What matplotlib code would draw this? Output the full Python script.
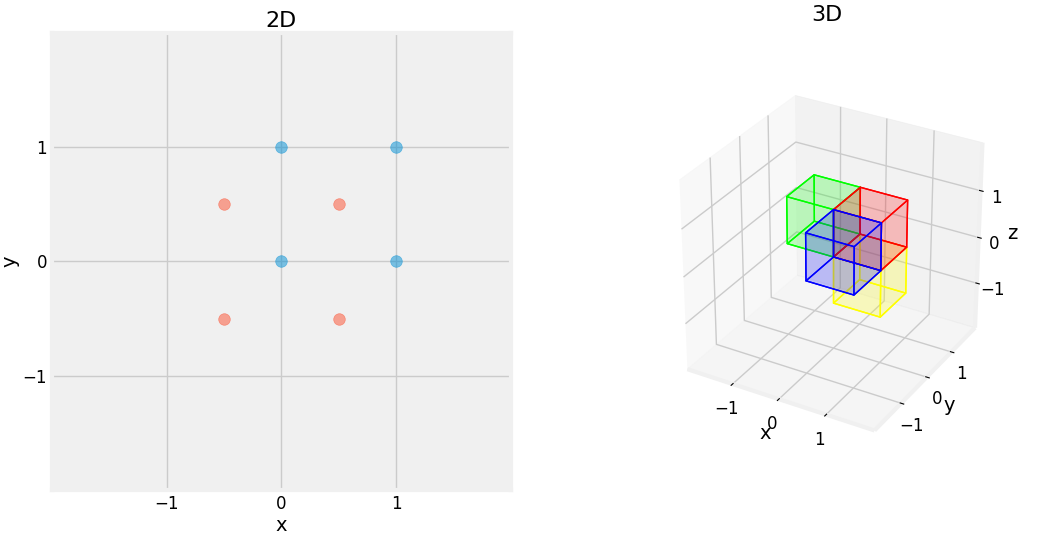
import matplotlib
matplotlib.use("Agg")
import matplotlib.pyplot as plt
import numpy as np
from mpl_toolkits.mplot3d.art3d import Poly3DCollection
from matplotlib.colors import to_rgba

plt.style.use("fivethirtyeight")
plt.rcParams['figure.facecolor'] = 'white'
plt.rcParams['savefig.facecolor'] = 'white'

blue_x = [0, 1, 0, 1]
blue_y = [0, 0, 1, 1]
red_x = [-0.5, 0.5, -0.5, 0.5]
red_y = [-0.5, -0.5, 0.5, 0.5]

cube_origins = [(0, 0, 0), (-1, 0, 0), (0, -1, 0), (0, 0, -1)]
cube_colors = ['red', 'lime', 'blue', 'yellow']

fig = plt.figure(figsize=(10.62, 5.35), dpi=100)
ax = fig.add_axes([0.049, 0.084, 0.432, 0.855])
ax.scatter(blue_x, blue_y, s=70, color='#008fd5', alpha=0.5, zorder=3)
ax.scatter(red_x, red_y, s=70, color='#fc4f30', alpha=0.5, zorder=3)
ax.set_xlim(-2, 2); ax.set_ylim(-2, 2)
ax.set_xticks([-1, 0, 1]); ax.set_yticks([-1, 0, 1])
ax.set_xlabel('x', fontsize=14, labelpad=2); ax.set_ylabel('y', fontsize=14, labelpad=2)
ax.set_title('2D', fontsize=16, pad=4)
ax.tick_params(labelsize=12)

ax3 = fig.add_axes([0.60, 0.06, 0.36, 0.90], projection='3d')
ax3.set_box_aspect((1, 1, 1), zoom=0.95)
ax3.set_facecolor('white')
def cube_faces(o):
    x0, y0, z0 = o
    v = np.array([[x0+i, y0+j, z0+k] for i in (0, 1) for j in (0, 1) for k in (0, 1)])
    idx = [[0, 1, 3, 2], [4, 5, 7, 6], [0, 1, 5, 4], [2, 3, 7, 6], [0, 2, 6, 4], [1, 3, 7, 5]]
    return [v[f] for f in idx]
for o, c in zip(cube_origins, cube_colors):
    pc = Poly3DCollection(cube_faces(o), linewidths=1)
    pc.set_facecolor(to_rgba(c, 0.12))
    pc.set_edgecolor(to_rgba(c, 1.0))
    ax3.add_collection3d(pc)
ax3.set_xlim(-2, 2); ax3.set_ylim(-2, 2); ax3.set_zlim(-2, 2)
ax3.set_xticks([-1, 0, 1]); ax3.set_yticks([-1, 0, 1]); ax3.set_zticks([-1, 0, 1])
ax3.set_xlabel('x', fontsize=14, labelpad=-4)
ax3.set_ylabel('y', fontsize=14, labelpad=-4)
ax3.set_zlabel('z', fontsize=14, labelpad=-4)
ax3.tick_params(labelsize=12, pad=0)
fig.text(0.779, 0.972, '3D', fontsize=16, ha='center', va='center')
fig.savefig('out.png')
